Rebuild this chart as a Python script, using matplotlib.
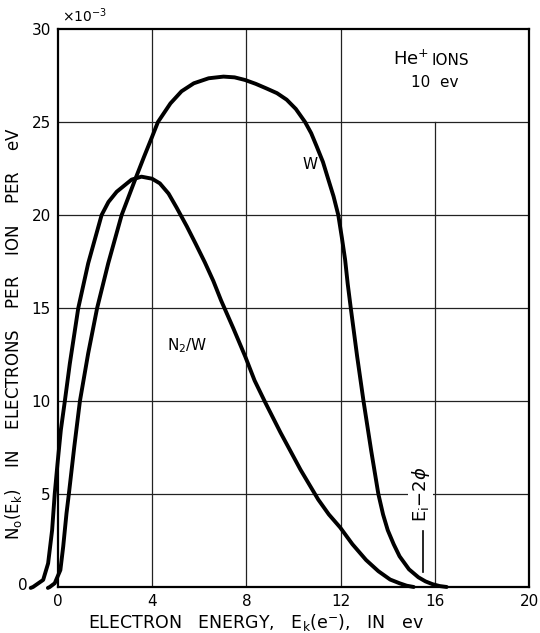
import matplotlib
matplotlib.use('Agg')
import matplotlib.pyplot as plt

# W curve (He+ 10 ev on clean tungsten), values in units of 1e-3
w_energy = [-0.42, -0.34, -0.13, 0.11, 0.23, 0.37, 0.47, 0.7, 0.94, 1.29, 1.67,
            2.14, 2.71, 3.28, 3.65, 4.0, 4.25, 4.78, 5.25, 5.77, 6.4, 7.03,
            7.5, 7.94, 8.4, 8.86, 9.3, 9.71, 10.1, 10.49, 10.75, 10.98, 11.25,
            11.48, 11.7, 11.9, 12.05, 12.19, 12.3, 12.43, 12.7, 12.97, 13.3,
            13.6, 13.8, 14.0, 14.25, 14.5, 14.9, 15.3, 15.6, 15.9, 16.2, 16.5]
w_yield = [-0.05, 0.0, 0.2, 0.91, 2.17, 3.96, 5.0, 7.54, 10.0, 12.56, 15.0,
           17.4, 20.0, 21.9, 23.1, 24.2, 25.0, 26.0, 26.65, 27.08, 27.35, 27.44,
           27.4, 27.26, 27.05, 26.8, 26.55, 26.2, 25.7, 25.0, 24.4, 23.7, 22.85,
           21.9, 21.0, 20.0, 18.8, 17.6, 16.3, 15.0, 12.4, 10.0, 7.3,
           5.0, 3.9, 3.05, 2.3, 1.65, 0.95, 0.52, 0.3, 0.15, 0.05, 0.0]

# N2/W curve (nitrogen covered tungsten)
n2_energy = [-1.15, -1.05, -0.62, -0.41, -0.24, -0.13, -0.01, 0.13, 0.3, 0.51,
             0.87, 1.29, 1.86, 2.15, 2.5, 3.13, 3.55, 4.0, 4.33, 4.7, 5.04, 5.47,
             5.85, 6.24, 6.6, 6.93, 7.45, 7.95, 8.35, 8.81, 9.45, 10.3, 11.05,
             11.5, 11.98, 12.5, 13.08, 13.6, 14.1, 14.5, 14.8, 15.1]
n2_yield = [-0.05, 0.0, 0.38, 1.27, 3.06, 5.0, 6.65, 8.44, 10.0, 12.0,
            15.0, 17.4, 20.0, 20.7, 21.25, 21.9, 22.06, 21.95, 21.7, 21.15, 20.4,
            19.4, 18.45, 17.45, 16.45, 15.4, 13.9, 12.4, 11.1, 9.9, 8.3, 6.3, 4.7,
            3.9, 3.2, 2.3, 1.45, 0.85, 0.4, 0.2, 0.07, 0.0]

x_ticks = [0, 4, 8, 12, 16, 20]
y_ticks = [0, 5, 10, 15, 20, 25, 30]

fig = plt.figure(figsize=(5.4, 6.33), dpi=100)
ax = fig.add_axes([0.107, 0.0727, 0.873, 0.8815])

ax.set_xlim(0, 20)
ax.set_ylim(0, 30)

# grid drawn by hand: the x=16 line stops under the legend box
for xv in [4, 8, 12]:
    ax.plot([xv, xv], [0, 30], color='#222222', lw=0.9, zorder=1)
ax.plot([16, 16], [0, 25], color='#222222', lw=0.9, zorder=1)
for yv in [5, 10, 15, 20, 25]:
    ax.plot([0, 20], [yv, yv], color='#222222', lw=0.9, zorder=1)

ax.plot(w_energy, w_yield, color='black', lw=2.8, clip_on=False, zorder=3,
        solid_capstyle='round', solid_joinstyle='round')
ax.plot(n2_energy, n2_yield, color='black', lw=2.8, clip_on=False, zorder=3,
        solid_capstyle='round', solid_joinstyle='round')

for s in ax.spines.values():
    s.set_linewidth(1.6)

ax.set_xticks(x_ticks)
ax.set_xticklabels([str(v) for v in x_ticks])
ax.set_yticks(y_ticks)
ax.set_yticklabels([''] + [str(v) for v in y_ticks[1:]])
ax.tick_params(length=0, labelsize=11, pad=5)
ax.text(-1.5, 0.1, '0', fontsize=11, ha='center', va='center')

ax.set_xlabel(r'ELECTRON   ENERGY,   E$_{\rm k}$(e$^{-}$),   IN   ev',
              fontsize=12.5)
ax.xaxis.set_label_coords(0.42, -0.045)
ax.set_ylabel(r'N$_{\rm o}$(E$_{\rm k}$)    IN    ELECTRONS    PER    ION    PER    eV',
              fontsize=12)
ax.yaxis.set_label_coords(-0.072, 0.455)

ax.text(0.2, 30.2, r'$\times$10$^{-3}$', fontsize=10, ha='left', va='bottom')

ax.text(15.75, 28.4, r'He$^{+}$', fontsize=13, ha='right', va='center')
ax.text(15.85, 28.3, 'IONS', fontsize=11, ha='left', va='center')
ax.text(15.0, 27.15, '10  ev', fontsize=11, ha='left', va='center')

ax.text(10.7, 22.7, 'W', fontsize=11, ha='center', va='center')
ax.text(5.5, 13.0, r'N$_2$/W', fontsize=11, ha='center', va='center')

ax.text(15.4, 5.0, r'E$_{\rm i}$$-$2$\phi$', fontsize=13, rotation=90,
        ha='center', va='center',
        bbox=dict(facecolor='white', edgecolor='none', pad=1))
ax.plot([15.5, 15.5], [0.8, 3.0], color='black', lw=1.2, zorder=2)

fig.savefig('out.png', dpi=100)
